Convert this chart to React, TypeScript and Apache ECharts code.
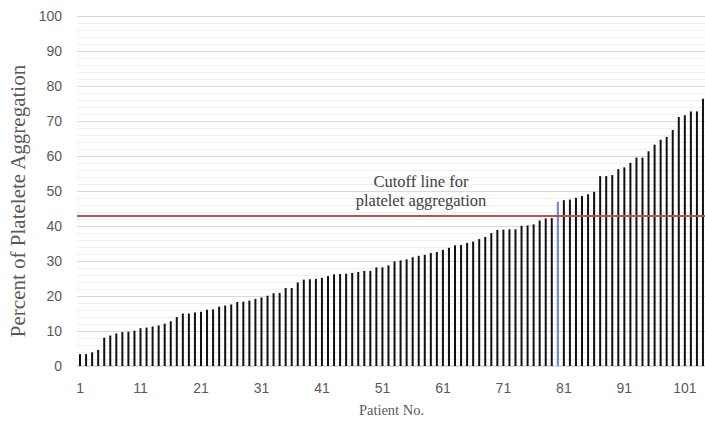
import React, { useEffect, useRef } from "react";
import * as echarts from "echarts";

const patientCount = 104;
const patients: string[] = Array.from({ length: patientCount }, (_, i) => String(i + 1));

const aggregation: number[] = [
  3.4, 3.4, 3.9, 4.6, 8.1, 8.7, 9.3, 9.7, 9.8, 10.1,
  10.8, 11.0, 11.3, 11.6, 12.1, 12.8, 14.0, 15.0, 15.0, 15.3,
  15.5, 16.1, 16.2, 17.0, 17.3, 17.6, 18.3, 18.4, 18.7, 19.2,
  19.6, 20.1, 20.8, 20.9, 22.3, 22.3, 23.9, 24.7, 24.8, 24.9,
  25.2, 25.7, 26.2, 26.3, 26.4, 26.6, 26.9, 27.2, 27.2, 28.2,
  28.2, 28.8, 29.9, 30.2, 30.5, 31.1, 31.5, 31.8, 32.3, 32.6,
  33.2, 33.8, 34.5, 34.6, 35.2, 35.6, 36.3, 36.9, 38.0, 38.9,
  39.0, 39.1, 39.1, 40.1, 40.2, 40.5, 41.6, 42.2, 42.3, 47.0,
  47.4, 47.6, 48.1, 48.6, 49.1, 49.8, 54.3, 54.3, 54.6, 56.3,
  56.8, 58.1, 59.6, 59.6, 61.4, 63.3, 64.7, 65.5, 67.5, 71.2,
  71.7, 72.8, 72.8, 76.4,
];

const highlightPatient = 80;
const cutoffValue = 43;
const cutoffLabel = ["Cutoff line for", "platelet aggregation"];
const xAxisTitle = "Patient No.";
const yAxisTitle = "Percent of Platelete Aggregation";

export default function App() {
  const ref = useRef<HTMLDivElement>(null);

  useEffect(() => {
    if (!ref.current) return;
    const chart = echarts.init(ref.current, null, { renderer: "svg" });
    const barData = aggregation.map((v, i) =>
      i + 1 === highlightPatient
        ? {
            value: v,
            itemStyle: { color: "#a9bfe3", borderColor: "#5b80c0", borderWidth: 1 },
          }
        : v
    );
    chart.setOption({
      animation: false,
      backgroundColor: "#ffffff",
      grid: { left: 77, right: 4, top: 16.3, bottom: 54.3, containLabel: false },
      xAxis: {
        type: "category",
        data: patients,
        name: xAxisTitle,
        nameLocation: "middle",
        nameGap: 36,
        nameTextStyle: { fontFamily: "Liberation Serif", fontSize: 14.5, color: "#595959" },
        axisLine: { show: true, lineStyle: { color: "#d9d9d9", width: 1.5 } },
        axisTick: { show: false },
        axisLabel: {
          interval: 9,
          margin: 15,
          fontFamily: "Liberation Sans",
          fontSize: 14,
          color: "#595959",
        },
      },
      yAxis: {
        type: "value",
        min: 0,
        max: 100,
        interval: 10,
        axisLine: { show: false },
        axisTick: { show: false },
        axisLabel: {
          margin: 15,
          fontFamily: "Liberation Sans",
          fontSize: 14,
          color: "#595959",
        },
        splitLine: { show: true, lineStyle: { color: "#d9d9d9", width: 1 } },
        minorTick: { show: false, splitNumber: 5 },
        minorSplitLine: { show: true, lineStyle: { color: "#efefef", width: 1 } },
      },
      series: [
        {
          type: "bar",
          data: barData,
          barWidth: 2,
          itemStyle: { color: "#111111" },
          markLine: {
            silent: true,
            symbol: "none",
            label: { show: false },
            lineStyle: { color: "#c0504d", width: 2, type: "solid" },
            data: [{ yAxis: cutoffValue }],
          },
        },
      ],
      graphic: [
        {
          type: "text",
          x: 18,
          y: 201,
          rotation: Math.PI / 2,
          z: 100,
          style: {
            text: yAxisTitle,
            font: "21px 'Liberation Serif'",
            fill: "#595959",
            align: "center",
            verticalAlign: "middle",
          },
        },
        {
          type: "text",
          x: 421,
          y: 181,
          z: 100,
          style: {
            text: cutoffLabel[0],
            font: "16.5px 'Liberation Serif'",
            fill: "#404040",
            align: "center",
            verticalAlign: "middle",
          },
        },
        {
          type: "text",
          x: 421,
          y: 200,
          z: 100,
          style: {
            text: cutoffLabel[1],
            font: "16.5px 'Liberation Serif'",
            fill: "#404040",
            align: "center",
            verticalAlign: "middle",
          },
        },
      ],
    });
    return () => chart.dispose();
  }, []);

  return (
    <div
      ref={ref}
      style={{ position: "absolute", left: 0, top: 0, width: 710, height: 422 }}
    />
  );
}
